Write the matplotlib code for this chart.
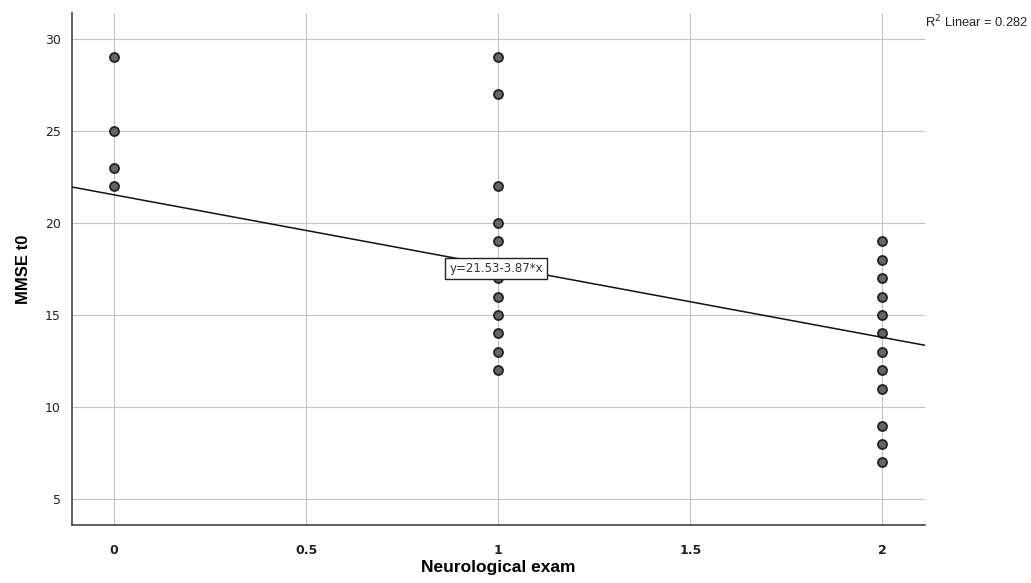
import matplotlib
matplotlib.use('Agg')
import matplotlib.pyplot as plt

# neurological exam score vs MMSE at t0
exam_0 = [29, 25, 23, 22]
exam_1 = [29, 27, 22, 20, 19, 17, 16, 15, 14, 13, 12]
exam_2 = [19, 18, 17, 16, 15, 14, 13, 12, 11, 9, 8, 7]
intercept = 21.53
slope = -3.87
r2 = 0.282

xs = [0] * len(exam_0) + [1] * len(exam_1) + [2] * len(exam_2)
ys = exam_0 + exam_1 + exam_2

fig = plt.figure(figsize=(10.31, 5.83), dpi=100)
ax = fig.add_axes([0.0698, 0.0995, 0.827, 0.878])

ax.set_xlim(-0.11, 2.11)
ax.set_ylim(3.6, 31.4)
ax.set_xticks([0, 0.5, 1, 1.5, 2])
ax.set_xticklabels(['0', '0.5', '1', '1.5', '2'], fontweight='bold')
ax.set_yticks([5, 10, 15, 20, 25, 30])
ax.tick_params(length=0, labelsize=9, colors='#222222')
ax.tick_params(axis='x', pad=14)
ax.tick_params(axis='y', pad=8)
ax.grid(True, color='#c2c2c8', linewidth=0.8)
ax.set_axisbelow(True)
for side in ['top', 'right']:
    ax.spines[side].set_visible(False)
for side in ['left', 'bottom']:
    ax.spines[side].set_color('#444444')
    ax.spines[side].set_linewidth(1.2)

ax.scatter(xs, ys, s=42, color='#666666', edgecolors='#222222', linewidths=1.3, zorder=3)

lx = [-0.11, 2.11]
ax.plot(lx, [intercept + slope * v for v in lx], color='#111111', linewidth=1.1, zorder=4)

ax.text(0.995, 17.55, 'y=21.53-3.87*x', ha='center', va='center', fontsize=8.5, color='#333333',
        bbox=dict(boxstyle='square,pad=0.35', facecolor='white', edgecolor='#222222', linewidth=1), zorder=5)

fig.text(0.897, 0.962, 'R$^2$ Linear = %.3f' % r2, fontsize=9.3, color='#222222', ha='left', va='center',
         family='Liberation Sans')

ax.set_xlabel('Neurological exam', fontsize=12.5, fontweight='bold', labelpad=2, family='Liberation Sans')
ax.set_ylabel('MMSE t0', fontsize=12, fontweight='bold', labelpad=10, family='Liberation Sans')

fig.savefig('out.png', dpi=100)
